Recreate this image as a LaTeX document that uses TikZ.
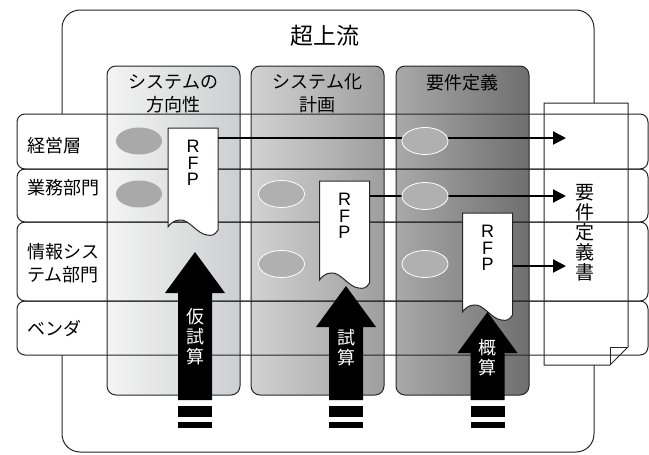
\documentclass[tikz,border=0pt]{standalone}
\usepackage{fontspec}
\setmainfont{Noto Sans CJK JP}
\newfontfamily\rfpfont{Liberation Sans}
\usetikzlibrary{
	shapes.geometric,   %椭圆
	arrows.meta         %箭头
}
\definecolor{phaseAl}{HTML}{F4F4F4}
\definecolor{phaseAr}{HTML}{CDCECF}
\definecolor{phaseBl}{HTML}{D2D2D2}
\definecolor{phaseBr}{HTML}{9E9E9E}
\definecolor{phaseCl}{HTML}{A9A9A9}
\definecolor{phaseCr}{HTML}{6F6F6F}
\definecolor{blobgray}{HTML}{B0B0B0}
\tikzset{
	every picture/.style={
		>={Triangle[length=13pt,width=13pt]}
	},
	thinline/.style={draw=black!85,line width=1pt},
	phase/.style={thinline,rounded corners=9},
	phasetitle/.style={align=center,font=\fontsize{18}{23}\selectfont},
	lanelabel/.style={anchor=west,align=left,inner sep=0,font=\fontsize{18}{23}\selectfont},
	blob/.style={ellipse,minimum width=46,minimum height=27,inner sep=0,fill=blobgray,draw=white,line width=0.8pt},
	flow/.style={->,line width=2pt},
	docline/.style={thinline,fill=white},
	rfptext/.style={align=center,inner sep=0,font=\rfpfont\fontsize{18}{16.5}\selectfont},
	uptext/.style={align=center,inner sep=0,text=white,font=\fontsize{18}{20}\selectfont},
	rfpdoc/.pic={
		\draw[docline] (-25,0) -- (25,0) -- (25,102)
		.. controls (22,107) and (19,108) .. (14,107)
		.. controls (4,106) and (-4,91) .. (-13,92)
		.. controls (-19,92) and (-23,96) .. (-25,99) -- cycle;
		\node[inner sep=0,minimum width=50,minimum height=102,anchor=north] (-box) at (0,0) {};
		\node[rfptext] (-txt) at (0,35) {R\\F\\P};
	}
}

\begin{document}
\begin{tikzpicture}[x=1pt,y=-1pt]
\useasboundingbox (0,0) rectangle (649,455);
% 超上流
\draw[thinline,rounded corners=18] (62,10) rectangle (594,452);
\node[font=\fontsize{23}{27}\selectfont] (title) at (325,36) {超上流};
% lanes
\foreach \t/\b in {114/169,169/222,222/301,301/355}
	\fill[white,rounded corners=8] (17,\t) rectangle (648,\b);
% phases
\draw[phase,left color=phaseAl,right color=phaseAr] (107,66) rectangle (240,395);
\draw[phase,left color=phaseBl,right color=phaseBr] (251,66) rectangle (384,395);
\draw[phase,left color=phaseCl,right color=phaseCr] (396,66) rectangle (529,395);
\node[phasetitle] (houkou) at (173.5,93.5) {システムの\\方向性};
\node[phasetitle] (keikaku) at (317.5,93.5) {システム化\\計画};
\node[phasetitle] (youken) at (462.5,83) {要件定義};
% 要件定義書
\draw[docline] (544,103) -- (628,103) -- (628,347) -- (610,365) -- (544,365) -- cycle;
\draw[thinline] (628,347) -- (610,347) -- (610,365);
\node[align=center,inner sep=0,font=\fontsize{19}{20}\selectfont] (teigisho) at (585,233) {要\\件\\定\\義\\書};
\foreach \t/\b in {114/169,169/222,222/301,301/355}
	\draw[thinline,rounded corners=8] (17,\t) rectangle (648,\b);
\node[lanelabel] (keiei) at (27,146) {経営層};
\node[lanelabel] (gyoumu) at (27,188) {業務部門};
\node[lanelabel] (jouhou) at (27,263.5) {情報シス\\テム部門};
\node[lanelabel] (venda) at (27,328) {ベンダ};
% RFP
\pic (rfp1) at (193,128) {rfpdoc};
\pic (rfp2) at (344.5,181) {rfpdoc};
\pic (rfp3) at (487.5,213) {rfpdoc};
\coordinate (to1) at (566,138);
\coordinate (to2) at (566,196);
\coordinate (to3) at (566,266);
\draw[flow] (rfp1-box.east |- to1) -- (to1);
\draw[flow] (rfp2-box.east |- to2) -- (to2);
\draw[flow] (rfp3-box.east |- to3) -- (to3);
\node[blob,fill=phaseCl,draw=none] (kei1) at (139,141) {};
\node[blob,fill=phaseCl,draw=none] (gyo1) at (139,194) {};
\node[blob] (gyo2) at (281.5,194) {};
\node[blob] (jou2) at (281.5,264) {};
\node[blob] (kei3) at (425,141) {};
\node[blob] (gyo3) at (425,196) {};
\node[blob] (jou3) at (425,264) {};
% 見積り
\foreach \x/\tip/\ty/\lbl/\n in {195/252/337/{仮\\試\\算}/kari,346/286/348/{試\\算}/shisan,487.5/312/358/{概\\算}/gaisan}{
	\fill (\x-17,400) -- (\x-17,\tip+41) -- (\x-30,\tip+41) -- (\x,\tip)
		-- (\x+30,\tip+41) -- (\x+17,\tip+41) -- (\x+17,400) -- cycle;
	\fill (\x-17,406) rectangle (\x+17,417);
	\fill (\x-17,422) rectangle (\x+17,428);
	\node[uptext] (\n) at (\x,\ty) {\lbl};
}
\end{tikzpicture}
\end{document}
